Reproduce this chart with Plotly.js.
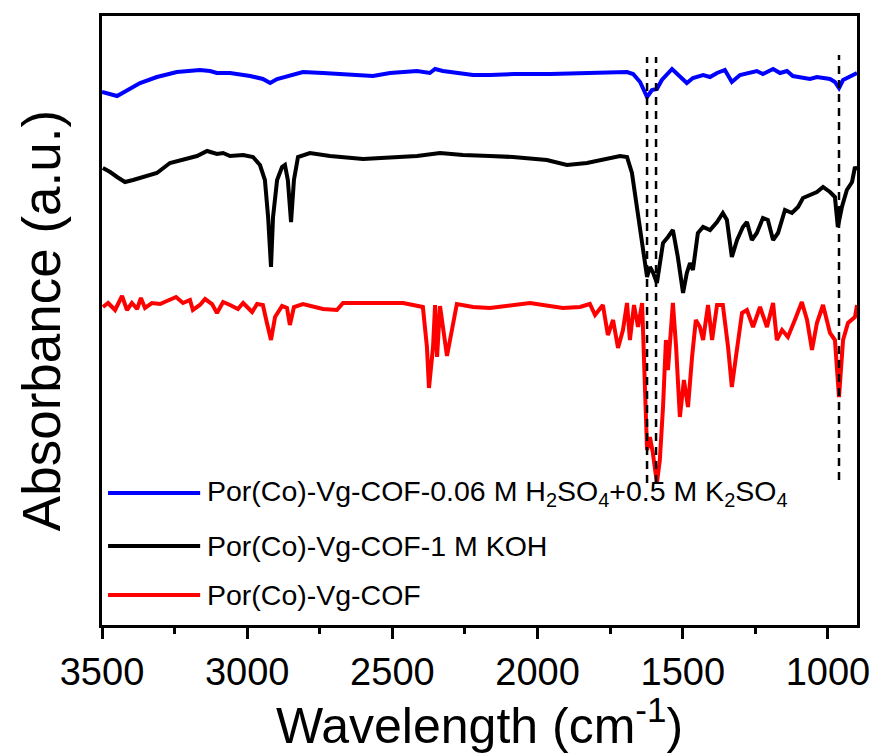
<!DOCTYPE html>
<html>
<head>
<meta charset="utf-8">
<script src="https://cdn.plot.ly/plotly-3.0.1.min.js"></script>
<style>html,body{margin:0;padding:0;background:#fff;}#chart{width:875px;height:754px;}</style>
</head>
<body>
<div id="chart"></div>
<script>
// Wavenumbers (cm-1) and absorbance (a.u., offset for display)
const blueX = [3500,3448,3369,3311,3242,3163,3128,3104,3059,2990,2946,2921,2897,2863,2842,2808,2739,2646,2567,2508,2415,2371,2353,2326,2278,2222,2164,2080,1957,1785,1692,1671,1647,1623,1606,1589,1572,1537,1510,1486,1465,1430,1406,1382,1355,1331,1303,1279,1245,1224,1189,1165,1141,1121,1096,1062,1038,993,976,962,948,924,900];
const blueY = [5.33,5.29,5.42,5.48,5.53,5.55,5.54,5.52,5.52,5.49,5.46,5.42,5.46,5.49,5.50,5.53,5.52,5.50,5.49,5.52,5.54,5.52,5.56,5.54,5.52,5.50,5.50,5.51,5.51,5.52,5.53,5.51,5.43,5.28,5.35,5.36,5.45,5.56,5.49,5.42,5.47,5.50,5.48,5.52,5.55,5.43,5.50,5.52,5.54,5.51,5.56,5.52,5.54,5.49,5.48,5.46,5.48,5.46,5.43,5.37,5.45,5.48,5.52];

const blackX = [3497,3472,3448,3421,3393,3359,3311,3266,3221,3173,3138,3104,3083,3059,3014,2980,2956,2939,2928,2918,2911,2897,2880,2870,2860,2849,2839,2825,2784,2715,2601,2508,2415,2336,2257,2164,2085,1968,1899,1830,1761,1716,1692,1675,1658,1640,1630,1623,1613,1603,1589,1579,1568,1551,1534,1517,1499,1486,1475,1465,1448,1430,1406,1382,1362,1348,1331,1313,1293,1279,1262,1245,1224,1207,1189,1172,1148,1124,1103,1086,1062,1038,1017,993,976,966,952,935,917,907,900];
const blackY = [4.57,4.53,4.48,4.43,4.45,4.48,4.52,4.62,4.65,4.69,4.74,4.71,4.72,4.69,4.70,4.68,4.60,4.45,4.08,3.58,4.08,4.45,4.58,4.60,4.45,4.03,4.45,4.68,4.72,4.69,4.66,4.68,4.69,4.72,4.70,4.69,4.68,4.65,4.60,4.62,4.66,4.69,4.68,4.52,4.18,3.85,3.65,3.48,3.58,3.53,3.42,3.62,3.82,3.88,3.95,3.68,3.32,3.52,3.62,3.55,3.92,3.98,3.95,4.03,4.12,4.05,3.68,3.85,3.98,4.03,3.85,3.92,4.07,4.05,3.85,3.92,4.15,4.12,4.18,4.27,4.30,4.33,4.38,4.33,4.28,3.98,4.18,4.35,4.43,4.58,4.55];

const redX = [3497,3479,3455,3431,3414,3397,3379,3366,3352,3328,3300,3266,3245,3221,3197,3187,3163,3145,3121,3104,3083,3059,3032,3014,2983,2966,2946,2932,2918,2904,2880,2863,2853,2839,2808,2739,2691,2670,2601,2532,2463,2395,2381,2374,2360,2353,2346,2336,2326,2312,2295,2278,2222,2164,2026,1913,1854,1820,1802,1775,1758,1740,1723,1706,1692,1682,1668,1654,1640,1630,1623,1613,1603,1589,1579,1568,1558,1551,1541,1534,1523,1510,1496,1482,1468,1455,1441,1430,1413,1399,1382,1362,1344,1331,1317,1296,1279,1258,1234,1210,1189,1176,1158,1138,1114,1090,1072,1055,1038,1017,993,976,962,948,931,907,900];
const redY = [3.18,3.22,3.15,3.29,3.15,3.22,3.16,3.27,3.17,3.22,3.21,3.25,3.28,3.22,3.25,3.15,3.20,3.26,3.21,3.12,3.23,3.20,3.16,3.22,3.13,3.21,3.20,3.02,2.85,3.08,3.19,3.17,3.00,3.18,3.21,3.16,3.15,3.22,3.22,3.22,3.22,3.18,2.78,2.37,2.78,3.20,2.68,3.19,2.95,2.69,2.95,3.21,3.18,3.17,3.22,3.17,3.18,3.21,3.10,3.20,2.90,3.05,2.77,2.95,3.22,2.85,3.20,2.98,3.22,2.45,1.75,1.88,1.72,1.42,1.65,2.18,2.85,2.55,2.95,3.22,2.78,2.08,2.45,2.18,2.68,3.05,2.98,2.85,3.20,2.85,3.20,3.20,2.78,2.38,2.68,3.12,3.15,2.98,3.18,2.98,3.22,2.85,2.95,2.88,3.05,3.23,3.05,2.75,3.02,3.20,2.92,2.85,2.28,2.85,3.02,3.08,3.20];

const markerLines = [1623, 1592, 962];
const markerTop = [5.68, 5.68, 5.70];
const markerBottom = [1.42, 1.42, 1.45];

const seriesNames = [
  'Por(Co)-Vg-COF-0.06 M H<sub>2</sub>SO<sub>4</sub>+0.5 M K<sub>2</sub>SO<sub>4</sub>',
  'Por(Co)-Vg-COF-1 M KOH',
  'Por(Co)-Vg-COF'
];
const seriesColors = ['#0000ff', '#000000', '#ff0000'];

const FONT = 'Liberation Sans, Arial, sans-serif';

const traces = [
  {x: blueX, y: blueY, name: seriesNames[0], type: 'scatter', mode: 'lines', line: {color: seriesColors[0], width: 4}, showlegend: false},
  {x: blackX, y: blackY, name: seriesNames[1], type: 'scatter', mode: 'lines', line: {color: seriesColors[1], width: 4}, showlegend: false},
  {x: redX, y: redY, name: seriesNames[2], type: 'scatter', mode: 'lines', line: {color: seriesColors[2], width: 4}, showlegend: false}
];

const shapes = markerLines.map((v, i) => ({
  type: 'line', xref: 'x', yref: 'y', x0: v, x1: v, y0: markerBottom[i], y1: markerTop[i],
  line: {color: '#000', width: 2.5, dash: '8px,6px'}
}));
const legY = [0.2167, 0.1297, 0.0493];
const annotations = [];
seriesNames.forEach((n, i) => {
  shapes.push({type: 'line', xref: 'paper', yref: 'paper', x0: 0.008, x1: 0.130, y0: legY[i], y1: legY[i],
    line: {color: seriesColors[i], width: 4}});
  annotations.push({xref: 'paper', yref: 'paper', x: 0.136, y: legY[i], xanchor: 'left', yanchor: 'middle',
    text: n, showarrow: false, font: {family: FONT, size: 28.5, color: '#000'}});
});

const layout = {
  width: 875, height: 754,
  margin: {l: 102, r: 18, t: 16, b: 129, autoexpand: false},
  paper_bgcolor: '#fff', plot_bgcolor: '#fff',
  font: {family: FONT, color: '#000'},
  xaxis: {
    range: [3500, 900], dtick: 500, tick0: 0, automargin: true,
    showline: true, mirror: true, linewidth: 3, linecolor: '#000',
    ticks: 'outside', ticklen: 11, tickwidth: 3, tickcolor: '#000',
    minor: {dtick: 250, ticks: 'outside', ticklen: 6, tickwidth: 3, tickcolor: '#000'},
    showgrid: false, zeroline: false,
    tickfont: {size: 38, family: FONT},
    title: {text: 'Wavelength (cm<sup>-1</sup>)', font: {size: 50, family: FONT}, standoff: 0}
  },
  yaxis: {
    range: [0, 6.09], showticklabels: false, ticks: '', automargin: true,
    showline: true, mirror: true, linewidth: 3, linecolor: '#000',
    showgrid: false, zeroline: false,
    title: {text: 'Absorbance (a.u.)', font: {size: 53, family: FONT}, standoff: 22}
  },
  shapes: shapes,
  annotations: annotations
};

Plotly.newPlot('chart', traces, layout, {displayModeBar: false, staticPlot: true});
</script>
</body>
</html>
